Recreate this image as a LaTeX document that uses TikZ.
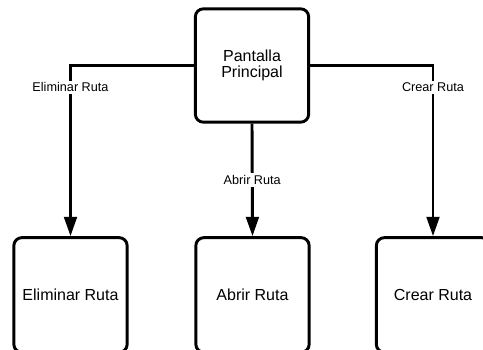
\documentclass[tikz,border=0pt]{standalone}
\usepackage{fontspec}
\setmainfont{Liberation Sans}
\usetikzlibrary{arrows.meta}
\tikzset{
  screen/.style={draw=black, line width=2.2pt, rounded corners=6pt, fill=white,
                 minimum width=85pt, minimum height=85pt, align=center,
                 font=\fontsize{12}{11.5}\selectfont},
  flow/.style={-{Triangle[length=14.5pt, width=9.5pt]}, line width=2.2pt},
  lbl/.style={fill=white, inner sep=1.5pt, font=\fontsize{9.5}{10}\selectfont},
}
\begin{document}
\begin{tikzpicture}[x=0.75pt, y=-0.75pt]
  \useasboundingbox (0,0) rectangle (483,350);
  \begin{scope}
    \clip (0,0) rectangle (483,350);
    % main screen and the three route screens
    \node[screen] (main) at (252,65.5) {Pantalla\\Principal};
    \node[screen, minimum height=86pt] (elim) at (70.5,295) {Eliminar Ruta};
    \node[screen, minimum height=86pt] (abrir) at (252.5,295) {Abrir Ruta};
    \node[screen, minimum height=86pt] (crear) at (433,295) {Crear Ruta};
    % transitions
    \draw[flow] (main.west) -| node[lbl, pos=0.564] {Eliminar Ruta} (elim.north);
    \draw[flow] (main.south) -- node[lbl, midway] {Abrir Ruta} (abrir.north);
    \draw[flow] (main.east) -| node[lbl, pos=0.564] {Crear Ruta} (crear.north);
  \end{scope}
\end{tikzpicture}
\end{document}
